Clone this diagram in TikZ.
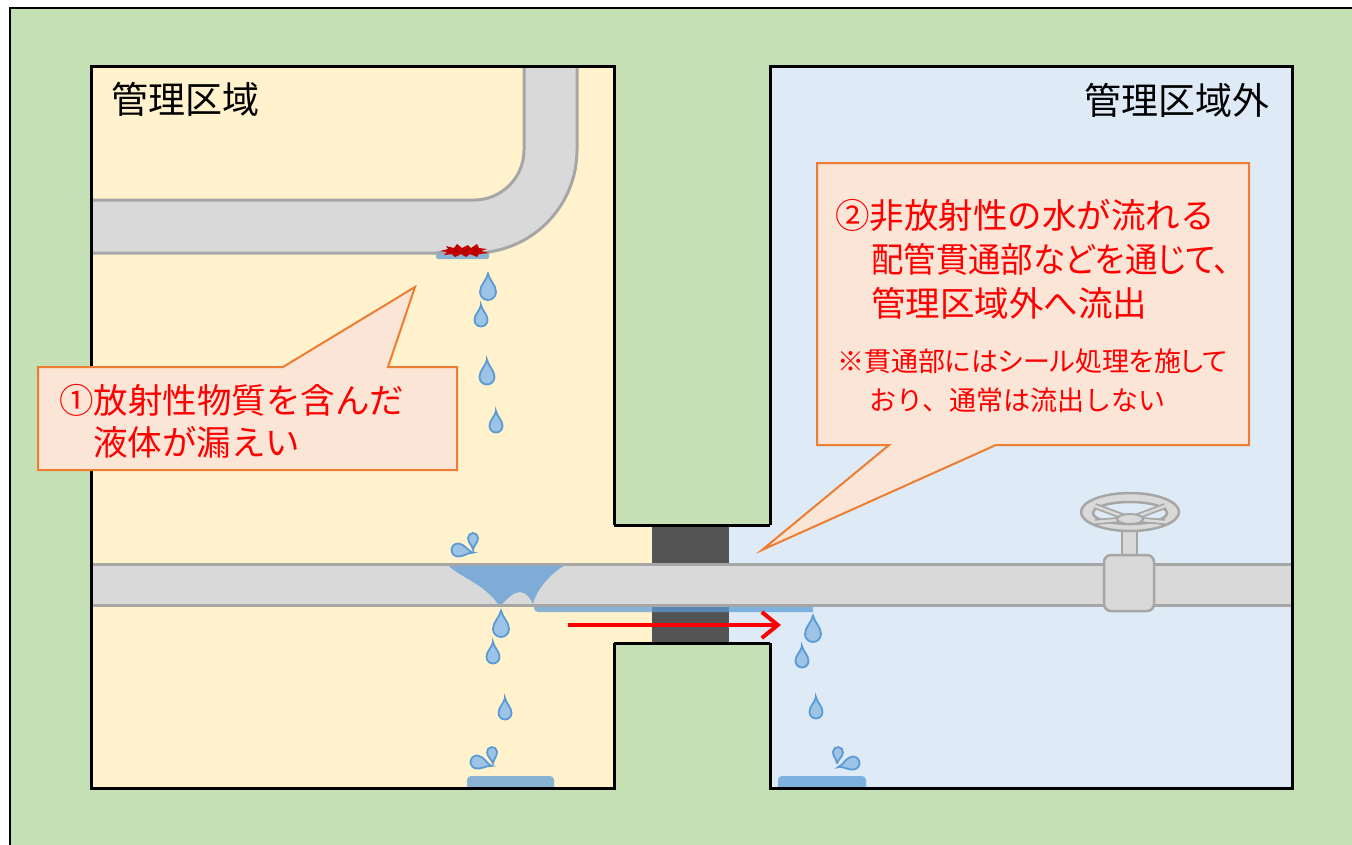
\documentclass[tikz,border=0pt]{standalone}
\usepackage{fontspec}
\newfontfamily\jp{Noto Sans CJK JP}
\newfontfamily\jpp[RawFeature=+palt]{Noto Sans CJK JP}
\usetikzlibrary{arrows.meta}

\definecolor{groundgreen}{HTML}{C5E0B4}
\definecolor{roomyellow}{HTML}{FFF2CC}
\definecolor{roomblue}{HTML}{DEEBF7}
\definecolor{sealgray}{HTML}{545454}
\definecolor{pipefill}{HTML}{D9D9D9}
\definecolor{pipeline}{HTML}{A6A6A6}
\definecolor{callfill}{HTML}{FBE5D6}
\definecolor{callline}{HTML}{ED7D31}
\definecolor{dropfill}{HTML}{9DC3E6}
\definecolor{dropline}{HTML}{5B9BD5}
\definecolor{crackred}{HTML}{C00000}
\definecolor{textred}{HTML}{FF0000}

\tikzset{
  pipebody/.style={fill=pipefill},
  pipeedge/.style={draw=pipeline, line width=3pt},
  wallline/.style={draw=black, line width=3pt, line join=miter},
  calloutbox/.style={fill=callfill, draw=callline, line width=2pt, line join=miter},
  dropstyle/.style={fill=dropfill, draw=dropline, line width=1.8pt},
  waterfill/.style={fill=dropline, fill opacity=0.72},
  titletext/.style={font=\jp\fontsize{37}{40}\selectfont, inner sep=0pt, text=black},
  calltext/.style={font=\jp\fontsize{34.5}{40}\selectfont, inner sep=0pt, text=textred},
  calltextp/.style={font=\jpp\fontsize{34.5}{40}\selectfont, inner sep=0pt, text=textred},
  notetext/.style={font=\jp\fontsize{27}{32}\selectfont, inner sep=0pt, text=textred},
  notetextp/.style={font=\jpp\fontsize{27}{32}\selectfont, inner sep=0pt, text=textred},
  waterdrop/.pic={
    \path[dropstyle] (0,-2.3) .. controls (0.2,-1.4) and (1,-0.9) .. (1,0)
      arc[start angle=0, end angle=180, radius=1]
      .. controls (-1,-0.9) and (-0.2,-1.4) .. cycle;
  }
}

\begin{document}
\begin{tikzpicture}[x=1pt, y=-1pt]
\useasboundingbox (0,0) rectangle (1352,844);

% ground
\path[fill=white] (0,0) rectangle (1352,844);
\path[fill=groundgreen, draw=black, line width=2.5pt] (10,8) rectangle (1362,854);

% rooms (with the corridor through the wall)
\path[fill=roomyellow] (91,66) -- (614,66) -- (614,525) -- (652,525) -- (652,643)
  -- (614,643) -- (614,788) -- (91,788) -- cycle;
\path[fill=roomblue] (770,66) -- (1292,66) -- (1292,788) -- (770,788) -- (770,643)
  -- (729,643) -- (729,525) -- (770,525) -- cycle;
\path[fill=sealgray] (652,525) rectangle (729,643);

% upper bent pipe
\path[pipebody] (91,200) -- (474,200) arc[start angle=90, end angle=0, radius=50]
  -- (524,66) -- (577,66) -- (577,150) arc[start angle=0, end angle=90, radius=103]
  -- (91,253) -- cycle;
% water collecting under the crack
\path[waterfill, rounded corners=2pt] (436,251) rectangle (489,259);
\path[pipeedge] (91,200) -- (474,200) arc[start angle=90, end angle=0, radius=50] -- (524,66);
\path[pipeedge] (577,66) -- (577,150) arc[start angle=0, end angle=90, radius=103] -- (91,253);
% crack
\path[fill=crackred] (440,251) -- (448,249) -- (446,246) -- (454,248) -- (457,244)
  -- (462,248) -- (468,245) -- (471,248) -- (477,244) -- (479,248) -- (487,249)
  -- (481,251) -- (489,253) -- (479,254) -- (477,257) -- (470,254) -- (466,257)
  -- (461,254) -- (455,257) -- (452,254) -- (444,255) -- (447,252) -- cycle;

% lower pipe
\path[pipebody] (91,564) rectangle (1292,605);
% water running over and along the lower pipe
\path[waterfill] (447,564) .. controls (460,578) and (482,582) .. (498,604)
  -- (502,604) .. controls (508,598) and (514,592) .. (520,592)
  .. controls (527,592) and (531,600) .. (533,604)
  .. controls (537,588) and (552,572) .. (567,564) -- cycle;
\path[waterfill] (534,604) -- (813,604) -- (813,612) -- (538,612)
  arc[start angle=90, end angle=180, radius=4] -- cycle;
\path[pipeedge] (91,564) -- (1292,564);
\path[pipeedge] (91,605) -- (1292,605);

% valve
\path[fill=pipefill, draw=pipeline, line width=2.5pt] (1122,520) rectangle (1137,557);
\path[fill=pipefill, draw=pipeline, line width=2.5pt, rounded corners=7pt]
  (1104,555) rectangle (1154,611);
\path[fill=pipefill, draw=pipeline, line width=2.5pt, even odd rule]
  (1130,512) ellipse[x radius=49, y radius=19]
  (1130,513) ellipse[x radius=37, y radius=11];
\foreach \ex/\ey in {1095/506, 1095/522, 1165/506, 1165/522}{
  \draw[pipeline, line width=6pt] (1130,519) -- (\ex,\ey);
  \draw[pipefill, line width=2.5pt] (1130,519) -- (\ex,\ey);
}
\path[fill=pipefill, draw=pipeline, line width=2pt] (1130,519) ellipse[x radius=13, y radius=5];

% drops in the controlled area
\pic[scale=8] at (488,292) {waterdrop};
\pic[scale=6.5] at (481,320) {waterdrop};
\pic[scale=7.5] at (487,377) {waterdrop};
\pic[scale=6.5] at (496,426) {waterdrop};
\pic[scale=6.5, rotate=-100] at (458,550) {waterdrop};
\pic[scale=5, rotate=180] at (473,538) {waterdrop};
\pic[scale=8] at (501,629) {waterdrop};
\pic[scale=6.5] at (493,657) {waterdrop};
\pic[scale=6.5] at (505,713) {waterdrop};
\pic[scale=6.5, rotate=-105] at (477,762) {waterdrop};
\pic[scale=5, rotate=185] at (492,752) {waterdrop};
\path[waterfill, rounded corners=4pt] (467,788) -- (467,776) -- (554,776) -- (554,788);

% drops outside the controlled area
\pic[scale=8] at (813,634) {waterdrop};
\pic[scale=6.5] at (802,661) {waterdrop};
\pic[scale=6.5] at (816,712) {waterdrop};
\pic[scale=6.5, rotate=105] at (853,763) {waterdrop};
\pic[scale=5, rotate=175] at (838,752) {waterdrop};
\path[waterfill, rounded corners=4pt] (778,788) -- (778,776) -- (866,776) -- (866,788);

% walls
\path[wallline] (614,525) -- (614,66) -- (91,66) -- (91,788) -- (614,788) -- (614,643);
\path[wallline] (770,525) -- (770,66) -- (1292,66) -- (1292,788) -- (770,788) -- (770,643);
\path[wallline] (614,525) -- (770,525);
\path[wallline] (614,643) -- (770,643);

% room titles
\node[titletext, anchor=west] (title-in) at (111,99) {管理区域};
\node[titletext, anchor=east] (title-out) at (1270,100) {管理区域外};

% callout 1
\path[calloutbox] (38,367) -- (283,367) -- (415,287) -- (388,367) -- (457,367)
  -- (457,470) -- (38,470) -- cycle;
\node[calltext, anchor=west] (c1a) at (59,400) {①放射性物質を含んだ};
\node[calltext, anchor=west] (c1b) at (93,442) {液体が漏えい};

% callout 2
\path[calloutbox] (817,163) -- (1249,163) -- (1249,445) -- (996,445) -- (762,550)
  -- (889,445) -- (817,445) -- cycle;
\node[calltext, anchor=west] (c2a) at (835,215) {②非放射性の水が流れる};
\node[calltextp, anchor=west] (c2b) at (871,259) {\scalebox{0.94}[1]{配管貫通部などを通じて、}};
\node[calltext, anchor=west] (c2c) at (871,303) {管理区域外へ流出};
\node[notetextp, anchor=west] (n1) at (837,361) {※貫通部にはシール処理を施して};
\node[notetext, anchor=west] (n2) at (869,400) {おり、通常は流出しない};

% flow direction
\coordinate (flowS) at (568,625);
\coordinate (flowE) at (781,625);
\draw[textred, line width=4pt, -{Straight Barb[length=16pt, width=26pt]}] (flowS) -- (flowE);
\end{tikzpicture}
\end{document}
